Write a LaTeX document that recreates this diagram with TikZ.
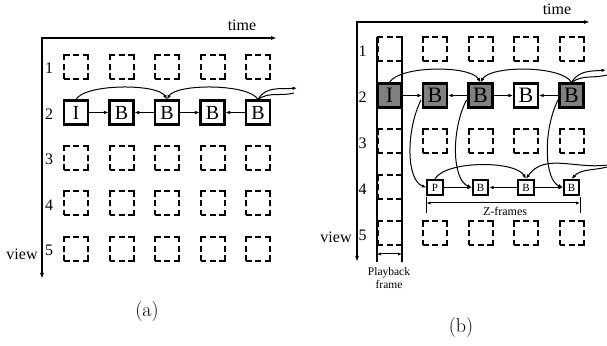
\documentclass[tikz,border=0pt]{standalone}
\usepackage{fontspec}
\newfontfamily\tms{Liberation Serif}
\usetikzlibrary{arrows.meta}
\begin{document}
\begin{tikzpicture}[x=1pt,y=1pt,
  dbox/.style={draw, line width=2pt, dash pattern=on 11pt off 3.5pt on 6pt off 3.5pt, dash phase=5.5pt, minimum size=24pt, inner sep=0pt},
  sbox/.style={draw, line width=2.1pt, minimum size=24pt, inner sep=0pt, fill=white, font=\tms\fontsize{20}{20}\selectfont},
  gbox/.style={sbox, fill=black!50, font=\tms\fontsize{22}{22}\selectfont},
  wbox/.style={sbox, font=\tms\fontsize{22}{22}\selectfont},
  tbox/.style={draw, line width=1.8pt, minimum size=15.5pt, inner sep=0pt, fill=white, font=\tms\fontsize{11}{11}\selectfont},
  lbl/.style={font=\tms\fontsize{16}{16}\selectfont, inner sep=0pt},
  arr/.style={line width=1pt, -{Latex[length=4.5pt,width=3.6pt]}},
  darr/.style={line width=1pt, {Latex[length=4pt,width=3.2pt]}-{Latex[length=4pt,width=3.2pt]}},
  axis/.style={line width=1.3pt, {Latex[length=6pt,width=4pt]}-{Latex[length=6pt,width=4pt]}},
  plain/.style={line width=1pt}]
\useasboundingbox (0,0) rectangle (607,345);
\fill[white] (0,0) rectangle (607,345);

% ================= (a) =================
\coordinate (aO) at (42,307);
\coordinate (aT) at (277,307);
\coordinate (aV) at (42,66);
\draw[axis] (aT) -- (aO) -- (aV);
\node[lbl, anchor=base] (atime) at (242,314) {time};
\node[lbl, anchor=base] (aview) at (22,85) {view};
\foreach \r/\y in {1/271,2/225.5,3/180,4/134.5,5/89}
  \node[lbl, anchor=base] (an\r) at (49,\y) {\r};
\foreach \c/\x in {1/76,2/121.5,3/167,4/212.5,5/258}
  \foreach \r/\y in {1/278,3/187,4/141.5,5/96}
    \node[dbox] (a\r\c) at (\x,\y) {};
\node[sbox] (aI) at (76,232.5) {I};
\node[sbox] (aB2) at (121.5,232.5) {B};
\node[sbox] (aB3) at (167,232.5) {B};
\node[sbox] (aB4) at (212.5,232.5) {B};
\node[sbox] (aB5) at (258,232.5) {B};
\draw[arr] (aI) -- (aB2);
\draw[arr] (aB3) -- (aB2);
\draw[arr] (aB3) -- (aB4);
\draw[arr] (aB5) -- (aB4);
\draw[arr] (aI.north) to[out=60,in=120,looseness=0.52] (aB3.north);
\draw[arr] (aB5.north) to[out=120,in=60,looseness=0.52] (aB3.north);
\coordinate (aout1) at (297,257);
\coordinate (aout2) at (294,252);
\draw[arr] (aB5.north) to[out=60,in=185] (aout1);
\draw[plain] (aB5.north) to[out=35,in=195] (aout2);
\node[font=\fontsize{20}{20}\selectfont, inner sep=0pt] (alab) at (147,33) {(a)};

% ================= (b) =================
\coordinate (bO) at (357,323);
\coordinate (bT) at (590,323);
\coordinate (bV) at (357,83);
\draw[axis] (bT) -- (bO) -- (bV);
\node[lbl, anchor=base] (btime) at (557,330) {time};
\node[lbl, anchor=base] (bview) at (336,102) {view};
\foreach \r/\y in {1/288,2/242,3/196,4/150,5/104}
  \node[lbl, anchor=base] (bn\r) at (362.5,\y) {\r};
\foreach \c/\x in {1/389.5,2/435,3/480.5,4/526,5/571.5}
  \foreach \r/\y in {1/295.5,3/203.5,5/111.5}
    \node[dbox] (b\r\c) at (\x,\y) {};
\node[dbox] (b41) at (389.5,157.5) {};
% playback frame column
\coordinate (pl1) at (377,308);
\coordinate (pl2) at (377,83);
\coordinate (pr1) at (402,308);
\coordinate (pr2) at (402,83);
\draw[line width=1.7pt] (pl1) -- (pl2);
\draw[line width=1.7pt] (pr1) -- (pr2);
\coordinate (pal) at (377,91);
\coordinate (par) at (402,91);
\draw[darr] (pal) -- (par);
\node[font=\tms\fontsize{11.5}{11.5}\selectfont, inner sep=0pt, anchor=base] (pbk) at (389,69) {Playback};
\node[font=\tms\fontsize{11.5}{11.5}\selectfont, inner sep=0pt, anchor=base] (pfr) at (389,56) {frame};
% row 2
\node[gbox] (bI) at (389.5,249.5) {I};
\node[gbox] (bB2) at (435,249.5) {B};
\node[gbox] (bB3) at (480.5,249.5) {B};
\node[wbox] (bB4) at (526,249.5) {B};
\node[gbox] (bB5) at (571.5,249.5) {B};
\draw[arr] (bI) -- (bB2);
\draw[arr] (bB3) -- (bB2);
\draw[arr] (bB3) -- (bB4);
\draw[arr] (bB5) -- (bB4);
\draw[arr] (bI.north) to[out=60,in=120,looseness=0.56] (bB3.north);
\draw[arr] (bB5.north) to[out=120,in=60,looseness=0.56] (bB3.north);
\coordinate (bout1) at (606,275);
\coordinate (bout2) at (607,270);
\draw[arr] (bB5.north) to[out=60,in=185] (bout1);
\draw[plain] (bB5.north) to[out=35,in=195] (bout2);
% row 4 (Z-frames)
\node[tbox] (zP) at (435,157.5) {P};
\node[tbox] (zB3) at (480.5,157.5) {B};
\node[tbox] (zB4) at (526,157.5) {B};
\node[tbox] (zB5) at (571.5,157.5) {B};
\draw[arr] (zP) -- (zB3);
\draw[arr] (zB4) -- (zB3);
\draw[arr] (zB4) -- (zB5);
\draw[arr] (zP.north) to[out=60,in=120,looseness=0.6] (zB4.north);
\coordinate (zin1) at (607,180);
\coordinate (zin2) at (607,178);
\draw[arr] (zin1) to[out=188,in=55] (zB4.north);
\draw[arr] (zin2) to[out=195,in=45] (zB5.north);
% vertical curves
\coordinate (v1s) at (421,245);
\coordinate (v2s) at (466.5,245);
\coordinate (v3s) at (558,245);
\draw[arr] (v1s) .. controls (406,215) and (406,165) .. (zP.west);
\draw[arr] (v2s) .. controls (451,215) and (452,165) .. (zB3.west);
\draw[arr] (v3s) .. controls (543,215) and (544,165) .. (zB5.west);
% Z-frames span
\coordinate (zl1) at (426.5,148);
\coordinate (zl2) at (426.5,132);
\coordinate (zr1) at (580,148);
\coordinate (zr2) at (580,132);
\draw[plain] (zl1) -- (zl2);
\draw[plain] (zr1) -- (zr2);
\coordinate (zal) at (426.5,142);
\coordinate (zar) at (580,142);
\draw[darr] (zal) -- (zar);
\node[font=\tms\fontsize{12}{12}\selectfont, inner sep=0pt, anchor=base] (zlab) at (505,129) {Z-frames};
\node[font=\fontsize{20}{20}\selectfont, inner sep=0pt] (blab) at (461,17) {(b)};
\end{tikzpicture}
\end{document}
